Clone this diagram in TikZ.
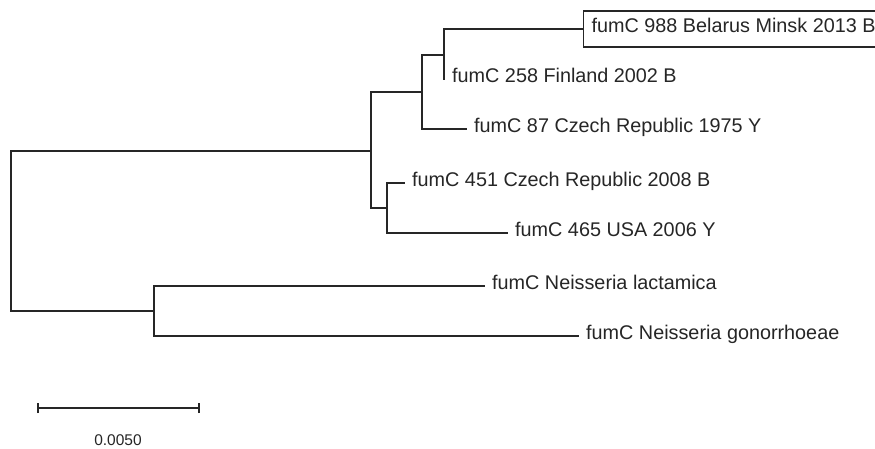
\documentclass[tikz,border=0pt]{standalone}
\usepackage{fontspec}
\setmainfont{Liberation Sans}
\begin{document}
\begin{tikzpicture}[x=1pt,y=-1pt,
  branch/.style={line width=1.2pt, draw=black!85},
  leaf/.style={anchor=west, inner xsep=7pt, inner ysep=0pt, text height=0.72em, text depth=0pt,
    font=\fontsize{19.8}{22}\selectfont, text=black!85},
  boxed/.style={leaf, draw=black!85, line width=1.2pt, inner xsep=8pt, minimum height=36pt},
  scalelabel/.style={font=\fontsize{15.5}{17}\selectfont, text=black!85, inner sep=0pt}]
\useasboundingbox (0,0) rectangle (875,448);
\fill[white] (0,0) rectangle (875,448);
% internal nodes
\coordinate (root) at (11,231);
\coordinate (A) at (371,151);
\coordinate (B) at (422,92);
\coordinate (D) at (444,55);
\coordinate (C) at (387,208);
\coordinate (E) at (154,311);
% leaves
\node[boxed] (t988) at (583,29) {fumC 988 Belarus Minsk 2013 B};
\node[leaf] (t258) at (445,79) {fumC 258 Finland 2002 B};
\node[leaf] (t87) at (467,129) {fumC 87 Czech Republic 1975 Y};
\node[leaf] (t451) at (405,183) {fumC 451 Czech Republic 2008 B};
\node[leaf] (t465) at (508,233) {fumC 465 USA 2006 Y};
\node[leaf] (tlac) at (485,286) {fumC Neisseria lactamica};
\node[leaf] (tgon) at (579,336) {fumC Neisseria gonorrhoeae};
% branches
\draw[branch] (root) |- (A);
\draw[branch] (root) |- (E);
\draw[branch] (A) |- (B);
\draw[branch] (A) |- (C);
\draw[branch] (B) |- (D);
\draw[branch] (B) |- (t87.west);
\draw[branch] (D) |- (t988.west);
\draw[branch] (D) |- (t258.west);
\draw[branch] (C) |- (t451.west);
\draw[branch] (C) |- (t465.west);
\draw[branch] (E) |- (tlac.west);
\draw[branch] (E) |- (tgon.west);
% scale bar
\coordinate (s1) at (38,408);
\coordinate (s2) at (199,408);
\draw[branch] (s1) -- (s2);
\draw[branch] ([yshift=-5pt]s1) -- ([yshift=5pt]s1);
\draw[branch] ([yshift=-5pt]s2) -- ([yshift=5pt]s2);
\node[scalelabel] (scl) at (118,440) {0.0050};
\end{tikzpicture}
\end{document}
